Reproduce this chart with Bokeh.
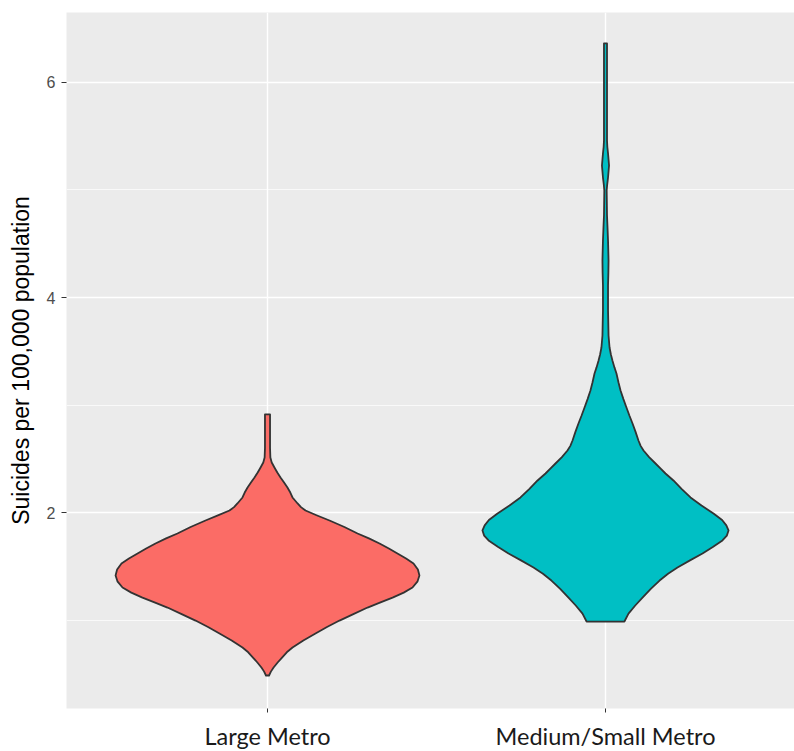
from bokeh.plotting import figure
from bokeh.models import Range1d, FixedTicker, ColumnDataSource
from bokeh.embed import file_html
from bokeh.resources import INLINE

# ---- data ----
categories = ["Large Metro", "Medium/Small Metro"]
fill_colors = ["#FB6C66", "#00BFC4"]

# violin outline: rate levels (top -> bottom) and full violin width (in category units)
large_levels = [2.912, 2.600, 2.512, 2.465, 2.419, 2.372, 2.326, 2.280, 2.233, 2.186,
                2.140, 2.084, 2.050, 2.019, 1.975, 1.926, 1.865, 1.805, 1.760, 1.712,
                1.665, 1.619, 1.572, 1.526, 1.470, 1.414, 1.360, 1.302, 1.255, 1.209,
                1.162, 1.116, 1.055, 0.995, 0.935, 0.874, 0.810, 0.744, 0.700, 0.651,
                0.605, 0.558, 0.520, 0.484]
large_widths = [0.015, 0.015, 0.017, 0.025, 0.041, 0.058, 0.077, 0.098, 0.118, 0.135,
                0.148, 0.178, 0.198, 0.225, 0.290, 0.367, 0.455, 0.533, 0.600, 0.663,
                0.718, 0.769, 0.820, 0.864, 0.890, 0.899, 0.888, 0.858, 0.806, 0.740,
                0.665, 0.592, 0.508, 0.426, 0.352, 0.284, 0.212, 0.148, 0.114, 0.086,
                0.060, 0.036, 0.020, 0.009]

medium_levels = [6.363, 5.833, 5.460, 5.400, 5.340, 5.228, 5.116, 5.050, 4.995, 4.880,
                 4.763, 4.650, 4.530, 4.344, 4.230, 4.112, 3.879, 3.647, 3.535, 3.470,
                 3.414, 3.350, 3.293, 3.210, 3.135, 3.055, 2.977, 2.900, 2.828, 2.750,
                 2.670, 2.620, 2.577, 2.515, 2.456, 2.410, 2.363, 2.298, 2.220, 2.140,
                 2.065, 1.991, 1.930, 1.880, 1.833, 1.785, 1.740, 1.680, 1.619, 1.555,
                 1.488, 1.430, 1.367, 1.290, 1.209, 1.135, 1.060, 0.986]
medium_widths = [0.009, 0.009, 0.009, 0.011, 0.015, 0.021, 0.015, 0.010, 0.007, 0.008,
                 0.009, 0.012, 0.015, 0.018, 0.017, 0.015, 0.015, 0.018, 0.024, 0.032,
                 0.041, 0.053, 0.065, 0.077, 0.089, 0.106, 0.124, 0.142, 0.160, 0.178,
                 0.195, 0.208, 0.225, 0.258, 0.296, 0.325, 0.355, 0.402, 0.450, 0.503,
                 0.568, 0.639, 0.690, 0.715, 0.728, 0.718, 0.692, 0.635, 0.574, 0.500,
                 0.426, 0.370, 0.320, 0.268, 0.219, 0.176, 0.136, 0.112]

y_ticks = [2, 4, 6]
y_minor_ticks = [1, 3, 5]
y_title = "Suicides per 100,000 population"


def outline(center, levels, widths):
    xs = [center + w / 2 for w in widths] + [center - w / 2 for w in reversed(widths)]
    ys = list(levels) + list(reversed(levels))
    return xs, ys


positions = [1, 2]
xs_all, ys_all = [], []
for pos, lv, wd in zip(positions, [large_levels, medium_levels], [large_widths, medium_widths]):
    xs, ys = outline(pos, lv, wd)
    xs_all.append(xs)
    ys_all.append(ys)

source = ColumnDataSource(data=dict(xs=xs_all, ys=ys_all, color=fill_colors))

p = figure(width=794, height=751, frame_width=728, frame_height=696,
           x_range=Range1d(0.4053, 2.5592), y_range=Range1d(0.177, 6.651),
           output_backend="svg", toolbar_location=None,
           min_border_left=66, min_border_top=12, min_border_right=0, min_border_bottom=43)

p.background_fill_color = "#EBEBEB"
p.border_fill_color = "white"
p.outline_line_color = None

p.patches(xs="xs", ys="ys", fill_color="color", line_color="#333333",
          line_width=1.8, line_join="round", source=source)

# grids
p.xgrid.ticker = FixedTicker(ticks=positions)
p.xgrid.grid_line_color = "white"
p.xgrid.grid_line_width = 1.4
p.ygrid.ticker = FixedTicker(ticks=y_ticks, minor_ticks=y_minor_ticks)
p.ygrid.grid_line_color = "white"
p.ygrid.grid_line_width = 1.4
p.ygrid.minor_grid_line_color = "white"
p.ygrid.minor_grid_line_width = 0.7

# x axis
p.xaxis.ticker = FixedTicker(ticks=positions)
p.xaxis.major_label_overrides = {1: categories[0], 2: categories[1]}
p.xaxis.axis_line_color = None
p.xaxis.major_tick_line_color = "#333333"
p.xaxis.major_tick_out = 4
p.xaxis.major_tick_in = 0
p.xaxis.minor_tick_line_color = None
p.xaxis.major_label_text_font = "Lato"
p.xaxis.major_label_text_font_size = "23.5px"
p.xaxis.major_label_text_color = "#1A1A1A"
p.xaxis.major_label_standoff = 9

# y axis
p.yaxis.ticker = FixedTicker(ticks=y_ticks, minor_ticks=y_minor_ticks)
p.yaxis.axis_line_color = None
p.yaxis.major_tick_line_color = "#333333"
p.yaxis.major_tick_out = 5
p.yaxis.major_tick_in = 0
p.yaxis.minor_tick_line_color = None
p.yaxis.major_label_text_font = "Liberation Sans"
p.yaxis.major_label_text_font_size = "16px"
p.yaxis.major_label_text_color = "#4D4D4D"
p.yaxis.major_label_standoff = 6
p.yaxis.axis_label = y_title
p.yaxis.axis_label_text_font = "Liberation Sans"
p.yaxis.axis_label_text_font_size = "23px"
p.yaxis.axis_label_text_font_style = "normal"
p.yaxis.axis_label_text_color = "black"
p.yaxis.axis_label_standoff = 10

open("out.html", "w").write(file_html(p, INLINE))
